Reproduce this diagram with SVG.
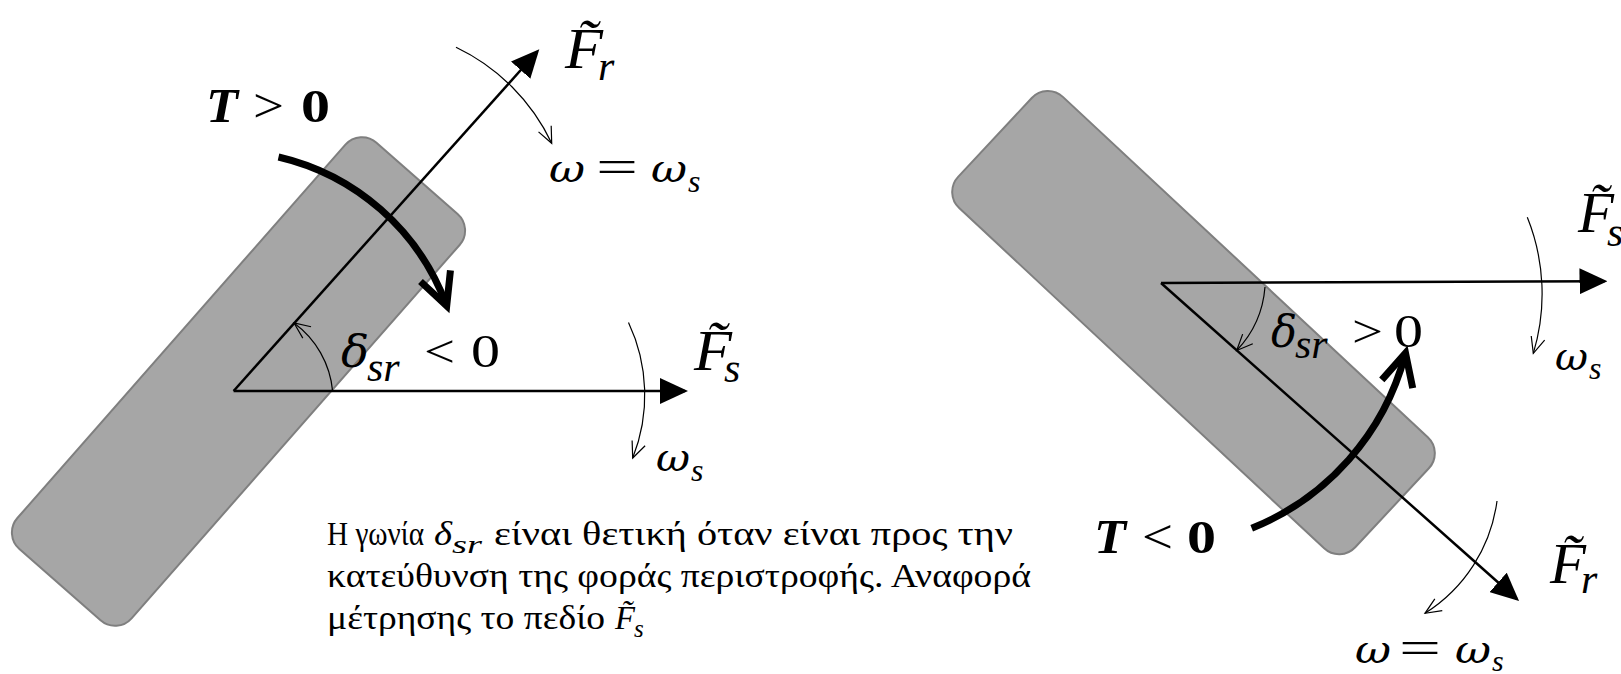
<svg xmlns="http://www.w3.org/2000/svg" width="1621" height="674" viewBox="0 0 1621 674">
<style>
.rotor{fill:#a6a6a6;stroke:#7f7f7f;stroke-width:2}
.vec{stroke:#000;stroke-width:2.5;fill:none;marker-end:url(#tri)}
.thin{stroke:#000;stroke-width:1.2;fill:none;marker-end:url(#v)}
.torque{stroke:#000;stroke-width:7;fill:none;marker-end:url(#tv)}
text{font-family:"Liberation Serif","DejaVu Serif",serif;fill:#000}
.gr{font-family:"DejaVu Serif","Liberation Serif",serif}
.i{font-style:italic}
.b{font-weight:bold}
.big{font-size:58px}
.sub{font-size:42px}
.para{font-size:33px}
</style>
<defs>
<marker id="tri" markerUnits="userSpaceOnUse" viewBox="0 0 28 26" markerWidth="28" markerHeight="26" refX="25" refY="13" orient="auto"><path d="M0,0 L28,13 L0,26 z" fill="#000"/></marker>
<marker id="v" markerUnits="userSpaceOnUse" viewBox="-2 -2 20 18" markerWidth="20" markerHeight="18" refX="16" refY="7" orient="auto" style="overflow:visible"><path d="M0,0 L16,7 L0,14" fill="none" stroke="#000" stroke-width="1.2"/></marker>
<marker id="tv" markerUnits="userSpaceOnUse" viewBox="-6 -6 48 46" markerWidth="48" markerHeight="46" refX="30" refY="16" orient="auto" style="overflow:visible"><path d="M0,0 L32,16 L0,32" fill="none" stroke="#000" stroke-width="7"/></marker>
</defs>

<g id="rotor-left"><rect class="rotor" x="-270.5" y="-76" width="541" height="152" rx="22" transform="translate(238.5,381.5) rotate(-48.7)"/></g>
<g id="rotor-right"><rect class="rotor" x="-271.5" y="-76" width="543" height="152" rx="22" transform="translate(1193.5,322.6) rotate(43)"/></g>

<g id="connectors">
<path class="vec" d="M233.6,391 L685,391"/>
<path class="vec" d="M233.6,391 L537.3,51.5"/>
<path class="vec" d="M1161,283 L1604.5,281.2"/>
<path class="vec" d="M1161,283 L1516.8,599"/>
<path class="torque" d="M278.5,157 A236,236 0 0 1 446,304"/>
<path class="torque" d="M1251.7,528.3 A259,259 0 0 0 1405,355"/>
<path class="thin" d="M456,47.3 A202,202 0 0 1 551.7,143.3"/>
<path class="thin" d="M628.5,322.5 A170,170 0 0 1 632.7,458"/>
<path class="thin" d="M332.6,391 A95,95 0 0 0 294,323"/>
<path class="thin" d="M1527.3,217.3 A205,205 0 0 1 1533.3,353.3"/>
<path class="thin" d="M1497,501 A157,157 0 0 1 1425,613.3"/>
<path class="thin" d="M1265,287 A104,104 0 0 1 1236.7,350.5"/>
</g>

<g id="label-Fr-left"><text class="i big" x="565" y="68" textLength="38" lengthAdjust="spacingAndGlyphs">F̃</text><text class="i sub" x="598" y="80">r</text></g>
<g id="label-w-left"><text class="gr i" font-size="40" x="549" y="182" textLength="36" lengthAdjust="spacingAndGlyphs">ω</text><text font-size="46" x="596" y="182" textLength="42" lengthAdjust="spacingAndGlyphs">=</text><text class="gr i" font-size="40" x="651" y="182" textLength="36" lengthAdjust="spacingAndGlyphs">ω</text><text class="i" font-size="32" x="688" y="192">s</text></g>
<g id="label-T-left"><text class="i b" font-size="48" x="206" y="122" textLength="32" lengthAdjust="spacingAndGlyphs">T</text><text font-size="48" x="253" y="122" textLength="31" lengthAdjust="spacingAndGlyphs">&gt;</text><text class="b" font-size="46" x="301" y="122" textLength="29" lengthAdjust="spacingAndGlyphs">0</text></g>
<g id="label-d-left"><text class="gr i" font-size="44" x="341" y="367" textLength="28" lengthAdjust="spacingAndGlyphs">δ</text><text class="i sub" x="367" y="381">sr</text><text font-size="46" x="424" y="367" textLength="31" lengthAdjust="spacingAndGlyphs">&lt;</text><text font-size="46" x="471" y="367" textLength="29" lengthAdjust="spacingAndGlyphs">0</text></g>
<g id="label-Fs-left"><text class="i big" x="694" y="370" textLength="38" lengthAdjust="spacingAndGlyphs">F̃</text><text class="i sub" x="724" y="382">s</text></g>
<g id="label-ws-left"><text class="gr i" font-size="40" x="656" y="471" textLength="34" lengthAdjust="spacingAndGlyphs">ω</text><text class="i" font-size="32" x="691" y="481">s</text></g>

<g id="note" class="gr">
<text class="para" x="327" y="545" textLength="97" lengthAdjust="spacingAndGlyphs">Η γωνία</text>
<text class="para i" x="434" y="545" textLength="18" lengthAdjust="spacingAndGlyphs">δ</text><text class="i" font-size="25" x="452" y="553" textLength="30" lengthAdjust="spacingAndGlyphs">sr</text>
<text class="para" x="494" y="545" textLength="519" lengthAdjust="spacingAndGlyphs">είναι θετική όταν είναι προς την</text>
<text class="para" x="327" y="587" textLength="704" lengthAdjust="spacingAndGlyphs">κατεύθυνση της φοράς περιστροφής. Αναφορά</text>
<text class="para" x="327" y="629" textLength="278" lengthAdjust="spacingAndGlyphs">μέτρησης το πεδίο</text>
<text class="para i" x="615" y="629" textLength="20" lengthAdjust="spacingAndGlyphs">F̃</text><text class="i" font-size="25" x="634" y="637">s</text>
</g>

<g id="label-T-right"><text class="i b" font-size="48" x="1094" y="553" textLength="32" lengthAdjust="spacingAndGlyphs">T</text><text font-size="48" x="1142" y="553" textLength="31" lengthAdjust="spacingAndGlyphs">&lt;</text><text class="b" font-size="46" x="1187" y="553" textLength="29" lengthAdjust="spacingAndGlyphs">0</text></g>
<g id="label-d-right"><text class="gr i" font-size="44" x="1271" y="347" textLength="26" lengthAdjust="spacingAndGlyphs">δ</text><text class="i sub" x="1295" y="358">sr</text><text font-size="46" x="1352" y="347" textLength="31" lengthAdjust="spacingAndGlyphs">&gt;</text><text font-size="46" x="1394" y="347" textLength="29" lengthAdjust="spacingAndGlyphs">0</text></g>
<g id="label-Fs-right"><text class="i big" x="1578" y="232" textLength="36" lengthAdjust="spacingAndGlyphs">F̃</text><text class="i sub" x="1607" y="246">s</text></g>
<g id="label-ws-right"><text class="gr i" font-size="40" x="1555" y="370" textLength="33" lengthAdjust="spacingAndGlyphs">ω</text><text class="i" font-size="32" x="1589" y="379">s</text></g>
<g id="label-Fr-right"><text class="i big" x="1550" y="583" textLength="36" lengthAdjust="spacingAndGlyphs">F̃</text><text class="i sub" x="1581" y="593">r</text></g>
<g id="label-w-right"><text class="gr i" font-size="40" x="1355" y="663" textLength="36" lengthAdjust="spacingAndGlyphs">ω</text><text font-size="46" x="1399" y="663" textLength="42" lengthAdjust="spacingAndGlyphs">=</text><text class="gr i" font-size="40" x="1455" y="663" textLength="36" lengthAdjust="spacingAndGlyphs">ω</text><text class="i" font-size="30" x="1492" y="671">s</text></g>
</svg>
